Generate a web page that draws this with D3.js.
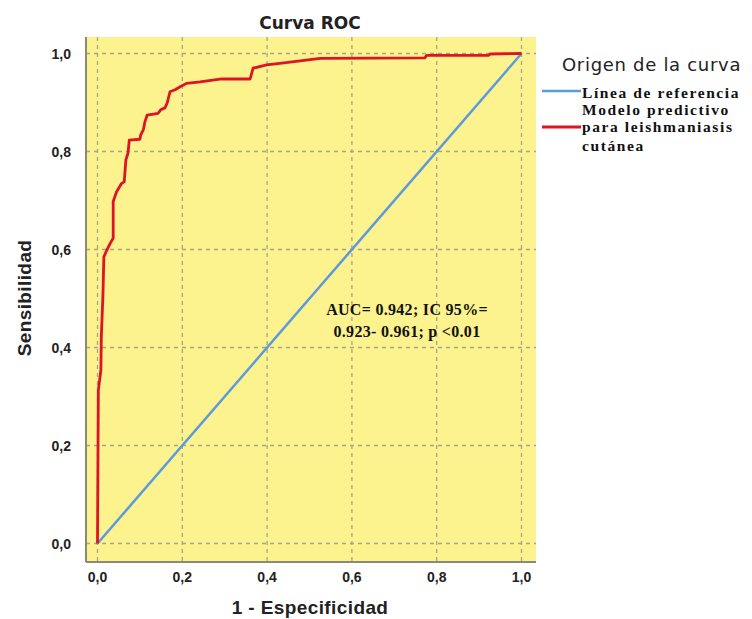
<!DOCTYPE html>
<html>
<head>
<meta charset="utf-8">
<script src="https://cdn.jsdelivr.net/npm/d3@7"></script>
<style>
  body { margin: 0; background: #fff; }
</style>
</head>
<body>
<div id="chart"></div>
<script>
const svgWidth = 752
const svgHeight = 619

// ROC curve vertices
const fpr = [0, 0.002, 0.008, 0.009, 0.013, 0.015, 0.022, 0.031, 0.037, 0.037, 0.045, 0.057, 0.063, 0.067,
  0.072, 0.075, 0.100, 0.102, 0.108, 0.112, 0.117, 0.143, 0.149, 0.159, 0.164, 0.171, 0.183, 0.195, 0.210,
  0.242, 0.293, 0.360, 0.367, 0.399, 0.430, 0.478, 0.525, 0.772, 0.776, 0.922, 0.926, 1]
const tpr = [0, 0.313, 0.354, 0.421, 0.511, 0.585, 0.599, 0.614, 0.623, 0.698, 0.718, 0.735, 0.738, 0.783,
  0.797, 0.823, 0.825, 0.834, 0.844, 0.861, 0.874, 0.878, 0.885, 0.889, 0.898, 0.922, 0.926, 0.932, 0.939,
  0.942, 0.948, 0.948, 0.970, 0.977, 0.980, 0.985, 0.990, 0.991, 0.996, 0.996, 0.999, 1]
const refLine = [0, 1]
const ticks = [0, 0.2, 0.4, 0.6, 0.8, 1]
const legendItems = ["Línea de referencia", "Modelo predictivo", "para leishmaniasis", "cutánea"]
const noteLines = ["AUC= 0.942; IC 95%=", "0.923- 0.961; p <0.01"]

const fmt = d => d.toFixed(1).replace(".", ",")

let svg = d3.select("#chart")
  .append("svg")
  .attr("width", svgWidth)
  .attr("height", svgHeight)

let x = d3.scaleLinear().domain([0, 1]).range([97.5, 521.5])
let y = d3.scaleLinear().domain([0, 1]).range([543.5, 53.5])

let plot = { left: 86, right: 536, top: 37, bottom: 562 }

// background
svg.append("rect")
  .attr("x", plot.left)
  .attr("y", plot.top)
  .attr("width", plot.right - plot.left)
  .attr("height", plot.bottom - plot.top)
  .attr("fill", "#fcf28e")

// grid
svg.append("g").selectAll("line")
  .data(ticks)
  .enter()
  .append("line")
  .attr("x1", d => x(d)).attr("x2", d => x(d))
  .attr("y1", plot.top).attr("y2", plot.bottom)
  .attr("stroke", "#a8a58a")
  .attr("stroke-width", 1.3)
  .attr("stroke-dasharray", "4,4")

svg.append("g").selectAll("line")
  .data(ticks)
  .enter()
  .append("line")
  .attr("y1", d => y(d)).attr("y2", d => y(d))
  .attr("x1", plot.left).attr("x2", plot.right)
  .attr("stroke", "#a8a58a")
  .attr("stroke-width", 1.3)
  .attr("stroke-dasharray", "4,4")

// axis lines
svg.append("line")
  .attr("x1", plot.left).attr("x2", plot.left)
  .attr("y1", plot.top).attr("y2", plot.bottom)
  .attr("stroke", "#8a8a7a").attr("stroke-width", 2)
svg.append("line")
  .attr("x1", plot.left).attr("x2", plot.right)
  .attr("y1", plot.bottom).attr("y2", plot.bottom)
  .attr("stroke", "#8a8a7a").attr("stroke-width", 2)

// tick labels
svg.append("g").selectAll("text")
  .data(ticks)
  .enter()
  .append("text")
  .attr("x", d => x(d))
  .attr("y", 582)
  .attr("text-anchor", "middle")
  .attr("font-family", "Liberation Sans, Arial, sans-serif")
  .attr("font-weight", "bold")
  .attr("font-size", "14px")
  .attr("fill", "#222")
  .text(fmt)

svg.append("g").selectAll("text")
  .data(ticks)
  .enter()
  .append("text")
  .attr("x", 71)
  .attr("y", d => y(d) + 5)
  .attr("text-anchor", "end")
  .attr("font-family", "Liberation Sans, Arial, sans-serif")
  .attr("font-weight", "bold")
  .attr("font-size", "14px")
  .attr("fill", "#222")
  .text(fmt)

// lines
let line = d3.line()
  .x(d => x(d[0]))
  .y(d => y(d[1]))

svg.append("path")
  .datum(refLine.map(d => [d, d]))
  .attr("d", line)
  .attr("fill", "none")
  .attr("stroke", "#5b9bdc")
  .attr("stroke-width", 2.5)

svg.append("path")
  .datum(fpr.map((d, i) => [d, tpr[i]]))
  .attr("d", line)
  .attr("fill", "none")
  .attr("stroke", "#dc1425")
  .attr("stroke-width", 2.8)
  .attr("stroke-linejoin", "round")

// titles
svg.append("text")
  .attr("x", 310).attr("y", 29)
  .attr("text-anchor", "middle")
  .attr("font-family", "DejaVu Sans, Verdana, sans-serif")
  .attr("font-weight", "bold")
  .attr("font-size", "17px")
  .attr("fill", "#222")
  .text("Curva ROC")

svg.append("text")
  .attr("x", 310).attr("y", 614)
  .attr("text-anchor", "middle")
  .attr("font-family", "Liberation Sans, Arial, sans-serif")
  .attr("font-weight", "bold")
  .attr("font-size", "19px")
  .attr("letter-spacing", "0.4px")
  .attr("fill", "#222")
  .text("1 - Especificidad")

svg.append("text")
  .attr("transform", "translate(31, 298) rotate(-90)")
  .attr("text-anchor", "middle")
  .attr("font-family", "Liberation Sans, Arial, sans-serif")
  .attr("font-weight", "bold")
  .attr("font-size", "19px")
  .attr("letter-spacing", "0.4px")
  .attr("fill", "#222")
  .text("Sensibilidad")

// annotation
svg.append("g").selectAll("text")
  .data(noteLines)
  .enter()
  .append("text")
  .attr("x", 407)
  .attr("y", (d, i) => 315 + i * 22)
  .attr("text-anchor", "middle")
  .attr("font-family", "Liberation Serif, Times New Roman, serif")
  .attr("font-weight", "bold")
  .attr("font-size", "16px")
  .attr("letter-spacing", "0.3px")
  .attr("fill", "#111")
  .text(d => d)

// legend
svg.append("text")
  .attr("x", 562).attr("y", 71)
  .attr("font-family", "DejaVu Sans, Verdana, sans-serif")
  .attr("font-size", "18px")
  .attr("font-weight", 500)
  .attr("letter-spacing", "0.7px")
  .attr("fill", "#222")
  .text("Origen de la curva")

svg.append("g").selectAll("text")
  .data(legendItems)
  .enter()
  .append("text")
  .attr("x", 582)
  .attr("y", (d, i) => [98, 115, 132, 151][i])
  .attr("font-family", "Liberation Serif, Times New Roman, serif")
  .attr("font-weight", "bold")
  .attr("font-size", "15.5px")
  .attr("letter-spacing", "1.6px")
  .attr("fill", "#111")
  .text(d => d)

svg.append("line")
  .attr("x1", 542).attr("x2", 581)
  .attr("y1", 91).attr("y2", 91)
  .attr("stroke", "#5b9bdc").attr("stroke-width", 2.5)
svg.append("line")
  .attr("x1", 542).attr("x2", 581)
  .attr("y1", 127).attr("y2", 127)
  .attr("stroke", "#dc1425").attr("stroke-width", 2.8)
</script>
</body>
</html>
